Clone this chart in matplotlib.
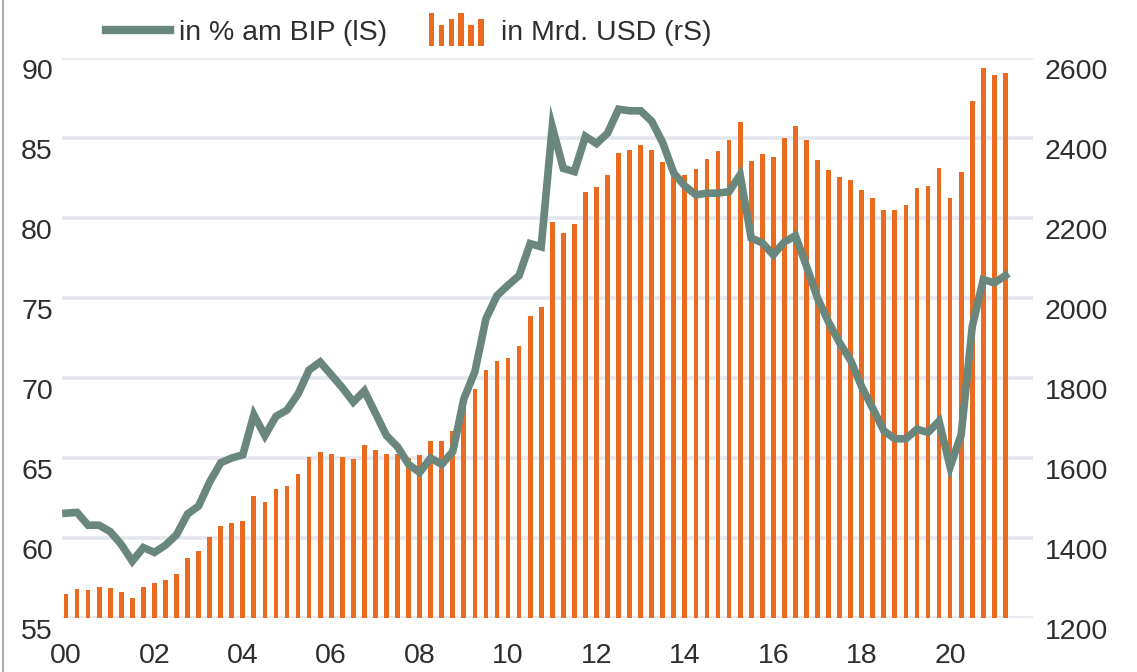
import numpy as np
import matplotlib
matplotlib.use("Agg")
import matplotlib.pyplot as plt
import matplotlib.transforms as mtransforms
from matplotlib.patches import Rectangle
from matplotlib.lines import Line2D
from matplotlib.legend_handler import HandlerBase

plt.rcParams['font.family'] = ['Liberation Sans Narrow', 'Liberation Sans', 'DejaVu Sans']

# quarterly values, 2000 Q1 .. 2021 Q2
pct_gdp = [61.55, 61.6, 60.8, 60.8, 60.4, 59.6, 58.55, 59.4, 59.1, 59.55,
           60.2, 61.5, 62.0, 63.5, 64.7, 65.0, 65.2, 67.7, 66.4, 67.6,
           68.0, 69.0, 70.5, 71.0, 70.2, 69.4, 68.5, 69.2, 67.8, 66.4,
           65.7, 64.6, 64.1, 65.0, 64.6, 65.4, 68.7, 70.4, 73.7, 75.15,
           75.8, 76.4, 78.4, 78.2, 85.7, 83.1, 82.9, 85.1, 84.65, 85.3,
           86.8, 86.7, 86.7, 86.05, 84.7, 82.8, 82.0, 81.45, 81.55, 81.55,
           81.65, 82.7, 78.75, 78.45, 77.7, 78.5, 78.9, 77.0, 75.0, 73.5,
           72.2, 71.1, 69.45, 68.1, 66.7, 66.2, 66.2, 66.8, 66.6, 67.3,
           64.45, 66.45, 73.2, 76.15, 75.95, 76.4]

usd_bn = [1260, 1273, 1269, 1278, 1274, 1265, 1251, 1278, 1287, 1295,
          1309, 1349, 1367, 1403, 1429, 1438, 1442, 1504, 1491, 1522,
          1531, 1561, 1602, 1615, 1610, 1602, 1597, 1633, 1620, 1609,
          1611, 1600, 1608, 1643, 1643, 1668, 1745, 1772, 1820, 1842,
          1850, 1881, 1955, 1978, 2189, 2162, 2185, 2264, 2277, 2308,
          2362, 2371, 2383, 2371, 2339, 2320, 2308, 2322, 2348, 2367,
          2396, 2440, 2343, 2360, 2352, 2399, 2430, 2395, 2346, 2319,
          2302, 2294, 2271, 2249, 2219, 2219, 2232, 2276, 2281, 2324,
          2250, 2315, 2492, 2575, 2557, 2562]

year_labels = ["00", "02", "04", "06", "08", "10", "12", "14", "16", "18", "20"]
left_ticks = [55, 60, 65, 70, 75, 80, 85, 90]
right_ticks = [1200, 1400, 1600, 1800, 2000, 2200, 2400, 2600]

line_col = "#6a877e"
bar_col = "#ea6a20"
grid_col = "#e4e7ee"
txt_col = "#2e2e2e"
fs = 20.5

W, H = 1137, 672
fig = plt.figure(figsize=(W / 100, H / 100), dpi=100)
ax = fig.add_axes([62 / W, 1 - 618 / H, (1033 - 62) / W, (618 - 58) / H])
ax2 = ax.twinx()

x = np.arange(len(usd_bn))

# bars on the right scale, with grid behind them
ax2.bar(x, usd_bn, width=0.43, color=bar_col, zorder=3)
ax2.set_ylim(1200, 2600)
ax2.set_yticks(right_ticks)
ax2.grid(axis='y', color=grid_col, linewidth=2.6, zorder=0)
ax2.set_axisbelow(True)

# line on the left scale, on top
ax.set_zorder(ax2.get_zorder() + 1)
ax.patch.set_visible(False)
ax.plot(x, pct_gdp, color=line_col, linewidth=5.5, solid_joinstyle='miter', zorder=5)
ax.set_ylim(55, 90)
ax.set_yticks(left_ticks)
ax.set_xlim(-0.36, 87.5)
ax.set_xticks(x[::8])
ax.set_xticklabels(year_labels)

for a in (ax, ax2):
    for s in a.spines.values():
        s.set_visible(False)
    a.tick_params(length=0, labelsize=fs, labelcolor=txt_col)
ax.tick_params(axis='y', pad=6.5)
ax2.tick_params(axis='y', pad=8.5)
ax.tick_params(axis='x', pad=18)

off = mtransforms.ScaledTranslation(0, -0.11, fig.dpi_scale_trans)
for lab in ax.get_yticklabels() + ax2.get_yticklabels():
    lab.set_transform(lab.get_transform() + off)


class BarIconHandler(HandlerBase):
    def create_artists(self, legend, orig_handle, xdescent, ydescent,
                       width, height, fontsize, trans):
        hts = [1.0, 0.64, 0.81, 1.0, 0.64, 0.81]
        w = width * 0.92
        step = w / len(hts)
        top = height * 1.65
        base = -ydescent - height * 0.3
        arts = []
        for i, h in enumerate(hts):
            r = Rectangle((-xdescent + i * step + step * 0.1, base), step * 0.55, top * h,
                          facecolor=bar_col, edgecolor='none', transform=trans)
            arts.append(r)
        return arts


line_handle = Line2D([], [], color=line_col, linewidth=6)
bar_handle = Rectangle((0, 0), 1, 1, facecolor=bar_col)
leg = fig.legend([line_handle, bar_handle], ["in % am BIP (lS)", "in Mrd. USD (rS)"],
                 handler_map={Rectangle: BarIconHandler()},
                 loc='center left', bbox_to_anchor=(106 / W, 1 - 33 / H), ncol=2,
                 frameon=False, fontsize=fs, handlelength=2.25, handletextpad=0.3,
                 columnspacing=1.45, borderaxespad=0, borderpad=0)
for t in leg.get_texts():
    t.set_color(txt_col)

# thin frame line at the left edge
fig.add_artist(Line2D([3 / W, 3 / W], [0, 1], color="#9a9a9a", linewidth=1.2,
                      transform=fig.transFigure))

fig.savefig("out.png", dpi=100)
